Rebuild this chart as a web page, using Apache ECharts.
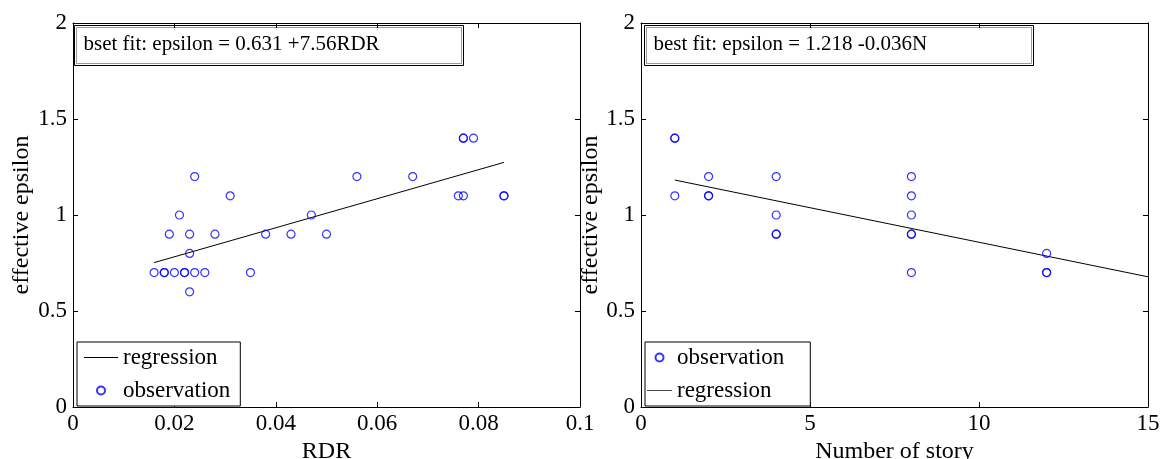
<!DOCTYPE html>
<html>
<head>
<meta charset="utf-8">
<script src="https://cdn.jsdelivr.net/npm/echarts@6/dist/echarts.min.js"></script>
<style>
html,body{margin:0;padding:0;background:#fff;}
#chart{width:1161px;height:459px;}
</style>
</head>
<body>
<div id="chart"></div>
<script>
// ---- data ----
const rdrObs = [0.016,0.018,0.018,0.020,0.022,0.022,0.024,0.026,0.035,0.023,0.023,0.019,0.023,0.028,0.038,0.043,0.050,0.021,0.047,0.031,0.024,0.056,0.067,0.077,0.077,0.079,0.076,0.077,0.085,0.085];
const epsObsLeft = [0.7,0.7,0.7,0.7,0.7,0.7,0.7,0.7,0.7,0.6,0.8,0.9,0.9,0.9,0.9,0.9,0.9,1.0,1.0,1.1,1.2,1.2,1.2,1.4,1.4,1.4,1.1,1.1,1.1,1.1];
const rdrFit = [0.016, 0.085];
const epsFitLeft = [0.752, 1.274];

const storyObs = [1,1,1,2,2,2,4,4,4,4,8,8,8,8,8,8,12,12,12];
const epsObsRight = [1.4,1.4,1.1,1.2,1.1,1.1,1.2,1.0,0.9,0.9,1.2,1.1,1.0,0.9,0.9,0.7,0.8,0.7,0.7];
const storyFit = [1, 15];
const epsFitRight = [1.182, 0.678];

const xTicksLeft = [0,0.02,0.04,0.06,0.08,0.1];
const xTicksRight = [0,5,10,15];
const yTicks = [0,0.5,1,1.5,2];

const fitTextLeft = 'bset fit: epsilon = 0.631 +7.56RDR';
const fitTextRight = 'best fit: epsilon = 1.218 -0.036N';

// ---- styles ----
const FONT = 'Liberation Serif';
const FS_TICK = 23;
const FS_NAME = 24;
const FS_LEG = 23;
const FS_FIT = 21;
const BLUE = '#0000ff';
const LINE_ICON = 'path://M0,0L34,0L34,1L0,1Z';

function pairs(xs, ys){ return xs.map((x,i)=>[x, ys[i]]); }

function mainX(grid, ticks, name){
  return {
    gridIndex: grid, type:'value', position:'bottom',
    min: ticks[0], max: ticks[ticks.length-1], interval: ticks[1]-ticks[0],
    name: name, nameLocation:'middle', nameGap: 30,
    nameTextStyle:{fontFamily:FONT,fontSize:FS_NAME,color:'#000'},
    axisLine:{show:true,onZero:false,lineStyle:{color:'#000',width:1}},
    axisTick:{show:true,inside:true,length:5,lineStyle:{color:'#000'}},
    axisLabel:{show:true,margin:5,fontFamily:FONT,fontSize:FS_TICK,color:'#000'},
    splitLine:{show:false}
  };
}
function mirrorX(grid, ticks){
  return {
    gridIndex: grid, type:'value', position:'top',
    min: ticks[0], max: ticks[ticks.length-1], interval: ticks[1]-ticks[0],
    axisLine:{show:true,onZero:false,lineStyle:{color:'#000',width:1}},
    axisTick:{show:true,inside:true,length:5,lineStyle:{color:'#000'}},
    axisLabel:{show:false}, splitLine:{show:false}
  };
}
function mainY(grid, name, gap){
  return {
    gridIndex: grid, type:'value', position:'left',
    min: yTicks[0], max: yTicks[yTicks.length-1], interval: yTicks[1]-yTicks[0],
    name: name, nameLocation:'middle', nameGap: gap,
    nameTextStyle:{fontFamily:FONT,fontSize:FS_NAME,color:'#000'},
    axisLine:{show:true,onZero:false,lineStyle:{color:'#000',width:1}},
    axisTick:{show:true,inside:true,length:5,lineStyle:{color:'#000'}},
    axisLabel:{show:true,margin:6,fontFamily:FONT,fontSize:FS_TICK,color:'#000'},
    splitLine:{show:false}
  };
}
function mirrorY(grid){
  return {
    gridIndex: grid, type:'value', position:'right',
    min: yTicks[0], max: yTicks[yTicks.length-1], interval: yTicks[1]-yTicks[0],
    axisLine:{show:true,onZero:false,lineStyle:{color:'#000',width:1}},
    axisTick:{show:true,inside:true,length:5,lineStyle:{color:'#000'}},
    axisLabel:{show:false}, splitLine:{show:false}
  };
}

function fitBox(x, y, w, h, text){
  return {
    type:'group', left:x, top:y,
    children:[
      {type:'rect', shape:{x:0,y:0,width:w,height:h}, style:{fill:'#fff',stroke:'#000',lineWidth:1}},
      {type:'rect', shape:{x:2,y:2,width:w-4,height:h-4}, style:{fill:'none',stroke:'#999',lineWidth:1}},
      {type:'text', x:9, y:h/2-1, style:{text:text, fontFamily:FONT, fontSize:FS_FIT, fill:'#000', verticalAlign:'middle'}}
    ]
  };
}

const scatterStyle = {color:'none', borderColor:BLUE, borderWidth:1.2};

const option = {
  backgroundColor:'#fff',
  animation:false,
  grid:[
    {left:73, top:23, width:507, height:384, outerBoundsMode:'none', containLabel:false},
    {left:641, top:23, width:507, height:384, outerBoundsMode:'none', containLabel:false}
  ],
  xAxis:[ mainX(0, xTicksLeft, 'RDR'), mirrorX(0, xTicksLeft), mainX(1, xTicksRight, 'Number of story'), mirrorX(1, xTicksRight) ],
  yAxis:[ mainY(0, 'effective epsilon', 39), mirrorY(0), mainY(1, 'effective epsilon', 32), mirrorY(1) ],
  legend:[
    {
      data:[{name:'regression', icon:LINE_ICON, itemStyle:{color:'#000'}}, {name:'observation'}],
      orient:'vertical', left:77, top:342,
      backgroundColor:'#fff', borderColor:'#000', borderWidth:1, borderRadius:0,
      padding:[4,10,4,7], itemWidth:34, itemHeight:8, itemGap:10,
      textStyle:{fontFamily:FONT,fontSize:FS_LEG,color:'#000'}, selectedMode:false
    },
    {
      data:[{name:'observation'}, {name:'regression', icon:LINE_ICON, itemStyle:{color:'#000'}}],
      orient:'vertical', left:645, top:342,
      backgroundColor:'#fff', borderColor:'#000', borderWidth:1, borderRadius:0,
      padding:[4,26,4,2], itemWidth:25, itemHeight:8, itemGap:10,
      textStyle:{fontFamily:FONT,fontSize:FS_LEG,color:'#000'}, selectedMode:false
    }
  ],
  graphic:[
    fitBox(74, 25, 389, 40, fitTextLeft),
    fitBox(644, 25, 389, 40, fitTextRight)
  ],
  series:[
    {name:'regression', type:'line', xAxisIndex:0, yAxisIndex:0, data:pairs(rdrFit, epsFitLeft),
     symbol:'none', lineStyle:{color:'#000',width:1}, itemStyle:{color:'#000'}, z:2},
    {name:'observation', type:'scatter', xAxisIndex:0, yAxisIndex:0, data:pairs(rdrObs, epsObsLeft),
     symbol:'circle', symbolSize:8, itemStyle:scatterStyle, z:3},
    {name:'observation', type:'scatter', xAxisIndex:2, yAxisIndex:2, data:pairs(storyObs, epsObsRight),
     symbol:'circle', symbolSize:8, itemStyle:scatterStyle, z:3},
    {name:'regression', type:'line', xAxisIndex:2, yAxisIndex:2, data:pairs(storyFit, epsFitRight),
     symbol:'none', lineStyle:{color:'#000',width:1}, itemStyle:{color:'#000'}, z:2}
  ]
};

const chart = echarts.init(document.getElementById('chart'), null, {renderer:'canvas'});
chart.setOption(option);
</script>
</body>
</html>
